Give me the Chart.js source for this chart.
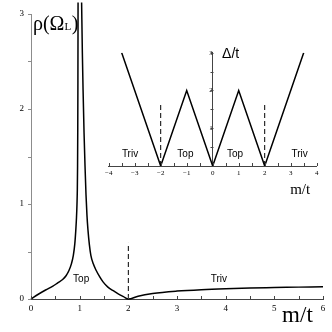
<!DOCTYPE html>
<html>
<head>
<meta charset="utf-8">
<title>rho(Omega_L) / gap</title>
<script src="https://cdn.jsdelivr.net/npm/chart.js@4.4.0/dist/chart.umd.min.js"></script>
<style>
  html, body { margin: 0; padding: 0; background: #fff; }
  #wrap { position: relative; width: 332px; height: 332px; }
  #wrap canvas { position: absolute; left: 0; top: 0; }
</style>
</head>
<body>
<div id="wrap">
  <canvas id="chartMain" width="332" height="332"></canvas>
  <canvas id="chartInset" width="332" height="332"></canvas>
</div>
<script>
// main curve, rho(Omega_L) vs m/t -- the null splits the two sides of the peak at m/t = 1
var rhoM   = [0, 0.15, 0.3, 0.45, 0.55, 0.65, 0.72, 0.78, 0.83, 0.87, 0.9, 0.92, 0.935, 0.945, 0.952, 0.957, 0.961, 0.964, 0.967,
              1.0,
              1.04, 1.055, 1.07, 1.09, 1.11, 1.13, 1.15, 1.17, 1.2, 1.23, 1.28, 1.34, 1.41, 1.48, 1.58, 1.69, 1.8, 1.9, 2,
              2.2, 2.5, 3, 3.5, 4, 4.5, 5, 5.5, 6];
var rhoVal = [0, 0.05, 0.095, 0.135, 0.17, 0.205, 0.245, 0.3, 0.37, 0.46, 0.58, 0.72, 0.86, 1.0, 1.15, 1.4, 1.8, 2.3, 3.12,
              null,
              3.12, 2.6, 2.2, 1.75, 1.4, 1.1, 0.88, 0.73, 0.57, 0.46, 0.37, 0.3, 0.235, 0.18, 0.125, 0.087, 0.052, 0.025, 0,
              0.03, 0.058, 0.083, 0.098, 0.108, 0.115, 0.12, 0.125, 0.13];

// inset, Delta/t vs m/t
var gapM   = [-3.5, -2, -1, 0, 1, 2, 3.5];
var gapVal = [3, 0, 2, 0, 2, 0, 3];

// dashed phase boundaries
var mainDashM = [2];
var mainDashTop = 0.59;
var insetDashM = [-2, 2];
var insetDashTop = 1.64;

// region labels
var mainRegions  = [{text: "Top", x: 1.03, y: 0.18}, {text: "Triv", x: 3.86, y: 0.18}];
var insetRegions = [{text: "Triv", x: -3.18, y: 0.25}, {text: "Top", x: -1.05, y: 0.25},
                    {text: "Top", x: 0.86, y: 0.25}, {text: "Triv", x: 3.34, y: 0.25}];

var SERIF = "'Liberation Serif', 'DejaVu Serif', serif";
var SANS = "'Liberation Sans', Arial, sans-serif";

function pts(xs, ys) {
  return xs.map(function (x, i) { return {x: x, y: ys[i]}; });
}

function dashSets(list, top) {
  return list.map(function (m) {
    return {data: [{x: m, y: 0}, {x: m, y: top}], borderColor: "#000", borderWidth: 1,
            borderDash: [5, 3], pointRadius: 0};
  });
}

// half-unit tick marks: x ticks point up into the plot, y ticks point left
function tickPlugin(yAxisX, xColor, yColor) {
  return {
    id: "halfTicks",
    afterDraw: function (chart) {
      var ctx = chart.ctx, xs = chart.scales.x, ys = chart.scales.y;
      var axisY = xs.top, axisX = yAxisX(chart), v;
      ctx.save();
      ctx.lineWidth = 1;
      ctx.strokeStyle = xColor;
      ctx.beginPath();
      for (v = xs.min; v <= xs.max + 1e-9; v += 0.5) {
        var px = Math.round(xs.getPixelForValue(v)) + 0.5;
        ctx.moveTo(px, axisY); ctx.lineTo(px, axisY - 3);
      }
      ctx.stroke();
      ctx.strokeStyle = yColor;
      ctx.beginPath();
      for (v = ys.min; v <= ys.max + 1e-9; v += 0.5) {
        var py = Math.round(ys.getPixelForValue(v)) + 0.5;
        ctx.moveTo(axisX, py); ctx.lineTo(axisX - 3, py);
      }
      ctx.stroke();
      ctx.restore();
    }
  };
}

function textPlugin(draw) {
  return {
    id: "texts",
    afterDraw: function (chart) {
      var ctx = chart.ctx;
      ctx.save();
      ctx.fillStyle = "#000";
      ctx.textBaseline = "alphabetic";
      draw(ctx, chart.scales.x, chart.scales.y);
      ctx.restore();
    }
  };
}

function regionText(ctx, xs, ys, list, font) {
  ctx.font = font;
  ctx.textAlign = "center";
  list.forEach(function (r) {
    ctx.fillText(r.text, xs.getPixelForValue(r.x), ys.getPixelForValue(r.y));
  });
}

// ---- main chart
new Chart(document.getElementById("chartMain"), {
  type: "line",
  data: {
    datasets: [{
      data: pts(rhoM, rhoVal), borderColor: "#000", borderWidth: 1.5, pointRadius: 0,
      cubicInterpolationMode: "monotone", spanGaps: false, clip: false
    }].concat(dashSets(mainDashM, mainDashTop))
  },
  options: {
    responsive: false, animation: false, events: [],
    layout: {padding: {left: 0, top: 14, right: 9, bottom: 0}},
    plugins: {legend: {display: false}, tooltip: {enabled: false}},
    scales: {
      x: {
        type: "linear", min: 0, max: 6,
        afterFit: function (s) { s.height = 33; },
        grid: {drawOnChartArea: false, drawTicks: false},
        border: {color: "#444", width: 1},
        ticks: {stepSize: 1, padding: 4, color: "#000", maxRotation: 0, font: {family: SERIF, size: 9}}
      },
      y: {
        type: "linear", min: 0, max: 3,
        afterFit: function (s) { s.width = 31; },
        grid: {drawOnChartArea: false, drawTicks: false},
        border: {color: "#8c8c8c", width: 1},
        ticks: {stepSize: 1, padding: 7, color: "#000", font: {family: SERIF, size: 9}}
      }
    }
  },
  plugins: [
    tickPlugin(function (c) { return c.scales.y.right; }, "#444", "#8c8c8c"),
    textPlugin(function (ctx, xs, ys) {
      regionText(ctx, xs, ys, mainRegions, "10px " + SANS);
      ctx.textAlign = "left";
      ctx.font = "23px " + SERIF;
      ctx.fillText("m/t", xs.getPixelForValue(5.16), ys.getPixelForValue(-0.24));
      // rho(Omega_L) with a small L
      var x = xs.getPixelForValue(0.04), y = ys.getPixelForValue(2.83);
      ctx.font = "20px " + SERIF;
      ctx.fillText("\u03c1(\u03a9", x, y);
      x += ctx.measureText("\u03c1(\u03a9").width;
      ctx.font = "11px " + SERIF;
      ctx.fillText("L", x, y);
      x += ctx.measureText("L").width + 0.5;
      ctx.font = "20px " + SERIF;
      ctx.fillText(")", x, y);
    })
  ]
});

// ---- inset chart, drawn on a transparent canvas over the main one
new Chart(document.getElementById("chartInset"), {
  type: "line",
  data: {
    datasets: [{
      data: pts(gapM, gapVal), borderColor: "#000", borderWidth: 1.5, pointRadius: 0, tension: 0
    }].concat(dashSets(insetDashM, insetDashTop))
  },
  options: {
    responsive: false, animation: false, events: [],
    layout: {padding: {left: 108.7, top: 52.7, right: 15.3, bottom: 0}},
    plugins: {legend: {display: false}, tooltip: {enabled: false}},
    scales: {
      x: {
        type: "linear", min: -4, max: 4,
        afterFit: function (s) { s.height = 166; },
        grid: {drawOnChartArea: false, drawTicks: false},
        border: {color: "#444", width: 1},
        ticks: {
          stepSize: 1, padding: 3, color: "#000", maxRotation: 0, autoSkip: false,
          font: {family: SERIF, size: 7},
          callback: function (v) { return v < 0 ? "\u2212" + Math.abs(v) : String(v); }
        }
      },
      y: {
        type: "linear", min: 0, max: 3, position: {x: 0},
        grid: {drawOnChartArea: false, drawTicks: false},
        border: {color: "#444", width: 1},
        ticks: {
          stepSize: 1, padding: 6, color: "#000", font: {family: SERIF, size: 7},
          callback: function (v) { return v === 0 ? "" : String(v); }
        }
      }
    }
  },
  plugins: [
    tickPlugin(function (c) { return Math.round(c.scales.x.getPixelForValue(0)) + 0.5; }, "#444", "#444"),
    textPlugin(function (ctx, xs, ys) {
      regionText(ctx, xs, ys, insetRegions, "10px " + SANS);
      ctx.textAlign = "left";
      ctx.font = "14px " + SANS;
      ctx.fillText("\u0394/t", xs.getPixelForValue(0.36), ys.getPixelForValue(2.86));
      ctx.font = "15px " + SERIF;
      ctx.fillText("m/t", xs.getPixelForValue(2.98), ys.getPixelForValue(-0.73));
    })
  ]
});
</script>
</body>
</html>
